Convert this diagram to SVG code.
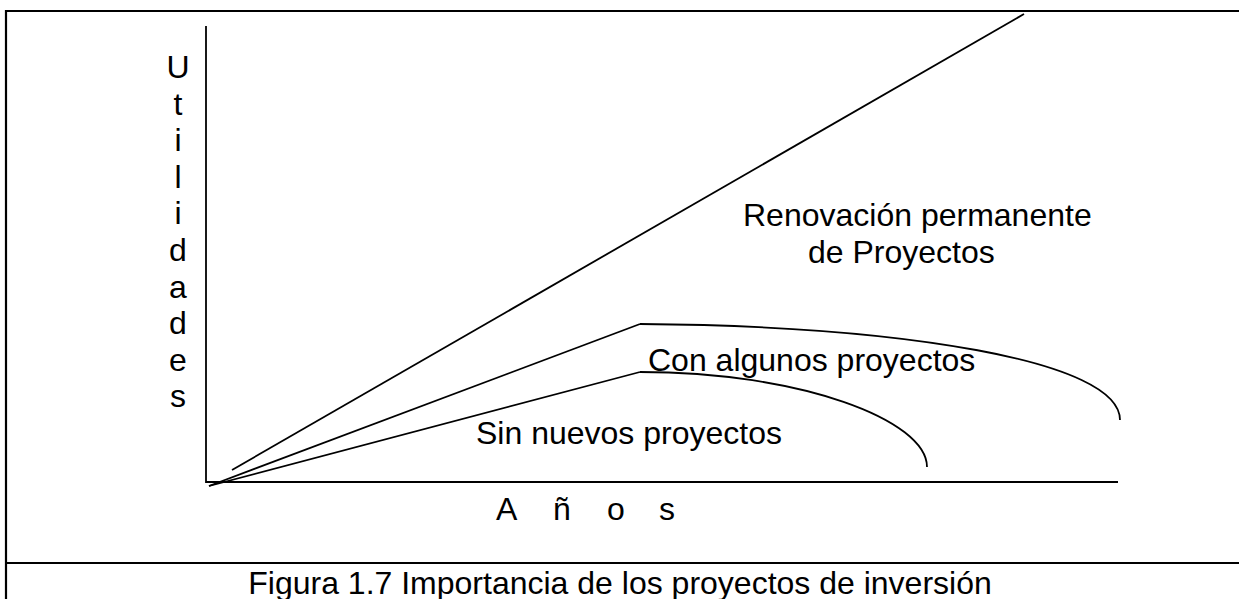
<svg xmlns="http://www.w3.org/2000/svg" width="1239" height="599" viewBox="0 0 1239 599">
<style>
.frame{stroke:#000;stroke-width:2.2;fill:none}
.ln{stroke:#000;stroke-width:1.8;fill:none}
.t{font-family:"Liberation Sans",Arial,sans-serif;font-size:32px;fill:#000}
</style>
<rect width="1239" height="599" fill="#fff"/>
<g id="frame">
<line class="frame" x1="6" y1="11" x2="1239" y2="11"/>
<line class="frame" x1="6" y1="10" x2="6" y2="599"/>
<line class="frame" x1="6" y1="563" x2="1239" y2="563"/>
</g>
<g id="axes">
<line class="ln" x1="206" y1="26" x2="206" y2="483"/>
<line class="ln" x1="206" y1="482" x2="1118" y2="482"/>
</g>
<g id="connectors">
<line class="ln" x1="232" y1="470" x2="1024" y2="14"/>
<polyline class="ln" points="209,486 640,324"/>
<path class="ln" d="M640,324 C900,326 1120,360 1120,420"/>
<polyline class="ln" points="209,486 640,372"/>
<path class="ln" d="M640,372 C800,372 927,420 927,467"/>
</g>
<g id="ylabel" class="t" text-anchor="middle">
<text x="178" y="78">U</text>
<text x="178" y="115">t</text>
<text x="178" y="151">i</text>
<text x="178" y="188">l</text>
<text x="178" y="224">i</text>
<text x="178" y="261">d</text>
<text x="178" y="298">a</text>
<text x="178" y="334">d</text>
<text x="178" y="371">e</text>
<text x="178" y="407">s</text>
</g>
<g id="xlabel" class="t">
<text y="520"><tspan x="496">A</tspan><tspan x="553">ñ</tspan><tspan x="607">o</tspan><tspan x="659">s</tspan></text>
</g>
<g id="renovacion">
<text class="t" x="743" y="226">Renovación permanente</text>
<text class="t" x="808" y="263">de Proyectos</text>
</g>
<g id="con-algunos"><text class="t" x="648" y="371">Con algunos proyectos</text></g>
<g id="sin-nuevos"><text class="t" x="476" y="444">Sin nuevos proyectos</text></g>
<g id="caption"><text class="t" x="620" y="594" text-anchor="middle">Figura 1.7 Importancia de los proyectos de inversión</text></g>
</svg>
